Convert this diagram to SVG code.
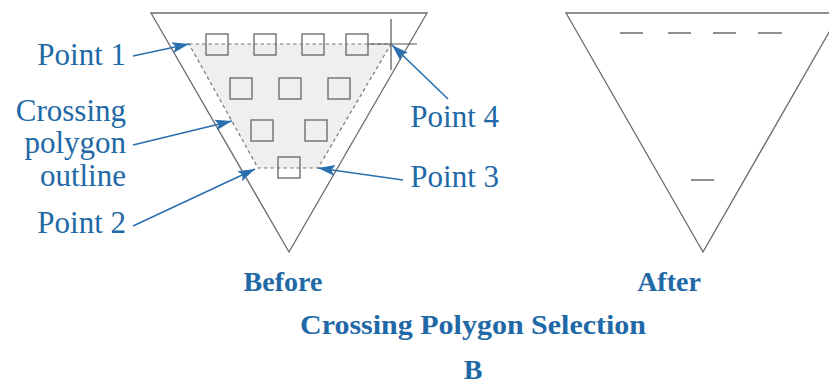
<svg xmlns="http://www.w3.org/2000/svg" width="829" height="385" viewBox="0 0 829 385">
<style>
.tri{fill:none;stroke:#6a6a6a;stroke-width:1.3}
.sq{fill:none;stroke:#707070;stroke-width:1.4}
.poly{fill:#efefef;stroke:#777;stroke-width:1.2;stroke-dasharray:3.5 3}
.cross{stroke:#555;stroke-width:1.2}
.dash{stroke:#6a6a6a;stroke-width:1.5}
.lbl{font-family:"Liberation Serif",serif;font-size:31px;fill:#2068a6;text-anchor:end}
.cap{font-family:"Liberation Serif",serif;font-weight:bold;font-size:28px;fill:#2068a6;text-anchor:middle}
.arr{stroke:#2a6fae;stroke-width:1.6;fill:none;marker-end:url(#ah)}
</style>
<defs>
<marker id="ah" markerUnits="userSpaceOnUse" markerWidth="18" markerHeight="12" refX="17" refY="5.5" orient="auto">
<path d="M0,0 L17,5.5 L0,11 L3.5,5.5 Z" fill="#2a6fae"/>
</marker>
</defs>
<g id="before">
<polygon class="tri" points="151,13 427,13 289,252"/>
<polygon class="poly" points="189,44 391,44 318,168 258,168"/>
<g id="objects">
<rect class="sq" x="206" y="34" width="22" height="21"/>
<rect class="sq" x="254" y="34" width="22" height="21"/>
<rect class="sq" x="302" y="34" width="22" height="21"/>
<rect class="sq" x="346" y="34" width="22" height="21"/>
<rect class="sq" x="230" y="78" width="22" height="21"/>
<rect class="sq" x="279" y="78" width="22" height="21"/>
<rect class="sq" x="328" y="78" width="22" height="21"/>
<rect class="sq" x="251" y="120" width="22" height="21"/>
<rect class="sq" x="305" y="120" width="22" height="21"/>
<rect class="sq" x="278" y="157" width="22" height="21"/>
</g>
<line class="cross" x1="368" y1="44" x2="417" y2="44"/>
<line class="cross" x1="391" y1="19" x2="391" y2="70"/>
</g>
<g id="after">
<polygon class="tri" points="566,13 840,13 703,252"/>
<line class="dash" x1="620" y1="33" x2="643" y2="33"/>
<line class="dash" x1="668" y1="33" x2="691" y2="33"/>
<line class="dash" x1="713" y1="33" x2="736" y2="33"/>
<line class="dash" x1="758" y1="33" x2="782" y2="33"/>
<line class="dash" x1="691" y1="180" x2="714" y2="180"/>
</g>
<g id="labels">
<text class="lbl" x="126" y="65">Point 1</text>
<text class="lbl" x="126" y="121">Crossing</text>
<text class="lbl" x="126" y="153">polygon</text>
<text class="lbl" x="126" y="186">outline</text>
<text class="lbl" x="126" y="233">Point 2</text>
<text class="lbl" x="499" y="127">Point 4</text>
<text class="lbl" x="499" y="187">Point 3</text>
<text class="cap" x="283" y="291">Before</text>
<text class="cap" x="669" y="291">After</text>
<text class="cap" x="473" y="334" textLength="346" lengthAdjust="spacingAndGlyphs">Crossing Polygon Selection</text>
<text class="cap" x="473" y="379">B</text>
</g>
<g id="connectors">
<line class="arr" x1="133" y1="56" x2="189" y2="44"/>
<line class="arr" x1="133" y1="145" x2="232" y2="121"/>
<line class="arr" x1="133" y1="226" x2="255" y2="169"/>
<line class="arr" x1="448" y1="99" x2="392" y2="45"/>
<line class="arr" x1="403" y1="180" x2="318" y2="168"/>
</g>
</svg>
